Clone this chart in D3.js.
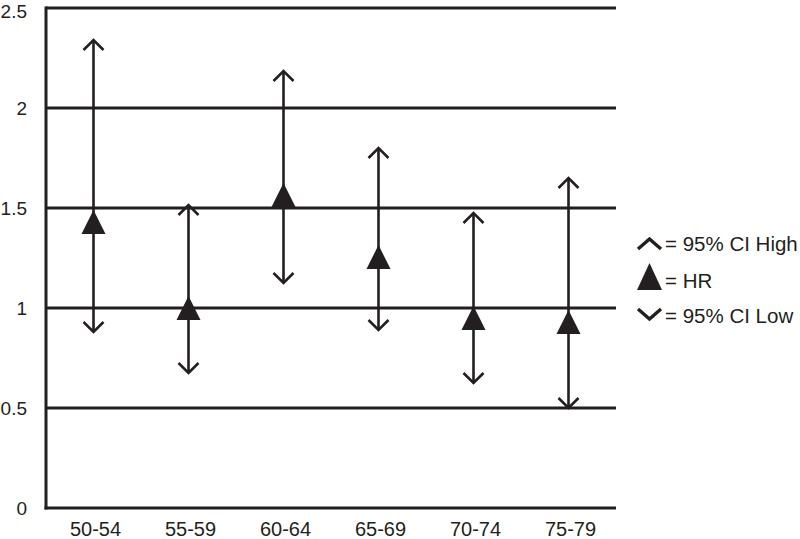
<!DOCTYPE html>
<html>
<head>
<meta charset="utf-8">
<script src="https://cdn.jsdelivr.net/npm/d3@7"></script>
<style>
  html, body { margin: 0; padding: 0; background: #fff; }
  svg { display: block; }
  text { font-family: "Liberation Sans", Arial, Helvetica, sans-serif; fill: #231f20; }
</style>
</head>
<body>
<svg id="chart" width="800" height="539"></svg>
<script>
const categories = ["50-54", "55-59", "60-64", "65-69", "70-74", "75-79"];
const hr     = [1.43, 1.00, 1.565, 1.255, 0.95, 0.93];
const ciHigh = [2.34, 1.515, 2.185, 1.80, 1.475, 1.65];
const ciLow  = [0.88, 0.675, 1.125, 0.89, 0.625, 0.50];
const yTicks = [0, 0.5, 1, 1.5, 2, 2.5];
const legendItems = ["= 95% CI High", "= HR", "= 95% CI Low"];

(function () {
const ink = "#231f20";
const font = '"Liberation Sans", Arial, Helvetica, sans-serif';
const svg = d3.select("#chart");
const pLeft = 46, pRight = 616, pTop = 8, pBottom = 508;

const x = d3.scaleBand().domain(categories).range([pLeft, pRight]);
const y = d3.scaleLinear().domain([0, 2.5]).range([pBottom, pTop]);

// gridlines
svg.append("g").selectAll("line")
  .data(yTicks.filter(d => d > 0))
  .join("line")
  .attr("x1", pLeft).attr("x2", pRight)
  .attr("y1", d => y(d)).attr("y2", d => y(d))
  .attr("stroke", ink).attr("stroke-width", 3);

// axes lines
svg.append("line").attr("x1", pLeft).attr("x2", pLeft).attr("y1", y(2.5) - 1.5).attr("y2", pBottom + 1.5)
  .attr("stroke", ink).attr("stroke-width", 3);
svg.append("line").attr("x1", pLeft - 1.5).attr("x2", pRight).attr("y1", pBottom).attr("y2", pBottom)
  .attr("stroke", ink).attr("stroke-width", 3);

// y axis labels
const yAxis = d3.axisLeft(y).tickValues(yTicks).tickSize(0).tickPadding(0).tickFormat(d3.format("~g"));
const ya = svg.append("g").attr("transform", `translate(${pLeft - 19},0.5)`).call(yAxis);
ya.select(".domain").remove();
ya.selectAll("text").style("font-size", "19px").attr("fill", ink).style("font-family", font)
  .attr("y", d => d === 2.5 ? 2.5 : 0);

// x axis labels
const xAxis = d3.axisBottom(x).tickSize(0).tickPadding(0);
const xa = svg.append("g").attr("transform", `translate(2,${pBottom + 14})`).call(xAxis);
xa.select(".domain").remove();
xa.selectAll("text").style("font-size", "20px").attr("fill", ink).style("font-family", font);

const data = categories.map((c, i) => ({ c, hr: hr[i], hi: ciHigh[i], lo: ciLow[i] }));
const cx = d => x(d.c) + x.bandwidth() / 2;

const marks = svg.append("g");
marks.selectAll("line.ci").data(data).join("line").attr("class", "ci")
  .attr("x1", cx).attr("x2", cx)
  .attr("y1", d => y(d.hi)).attr("y2", d => y(d.lo))
  .attr("stroke", ink).attr("stroke-width", 2.6);

const aw = 10, ah = 10;
marks.selectAll("path.hi").data(data).join("path").attr("class", "hi")
  .attr("d", d => `M${cx(d) - aw},${y(d.hi) + ah}L${cx(d)},${y(d.hi)}L${cx(d) + aw},${y(d.hi) + ah}`)
  .attr("fill", "none").attr("stroke", ink).attr("stroke-width", 2.6);
marks.selectAll("path.lo").data(data).join("path").attr("class", "lo")
  .attr("d", d => `M${cx(d) - aw},${y(d.lo) - ah}L${cx(d)},${y(d.lo)}L${cx(d) + aw},${y(d.lo) - ah}`)
  .attr("fill", "none").attr("stroke", ink).attr("stroke-width", 2.6);
const tw = 12, th = 12;
marks.selectAll("path.hr").data(data).join("path").attr("class", "hr")
  .attr("d", d => `M${cx(d)},${y(d.hr) - th}L${cx(d) + tw},${y(d.hr) + th}L${cx(d) - tw},${y(d.hr) + th}Z`)
  .attr("fill", ink);

// legend
const lg = svg.append("g");
const lx = 637;
lg.append("path").attr("d", `M${lx + 1},${249}L${lx + 12.5},${239}L${lx + 24},${249}`)
  .attr("fill", "none").attr("stroke", ink).attr("stroke-width", 3.4);
lg.append("path").attr("d", `M${lx + 12.5},${263}L${lx + 25},${290}L${lx},${290}Z`)
  .attr("fill", ink);
lg.append("path").attr("d", `M${lx + 1},${309}L${lx + 12.5},${319}L${lx + 24},${309}`)
  .attr("fill", "none").attr("stroke", ink).attr("stroke-width", 3.4);
const lBase = [251, 288, 323];
lg.selectAll("text").data(legendItems).join("text")
  .attr("x", 665)
  .attr("y", (d, i) => lBase[i])
  .style("font-size", "20.5px")
  .text(d => d);
})();
</script>
</body>
</html>
